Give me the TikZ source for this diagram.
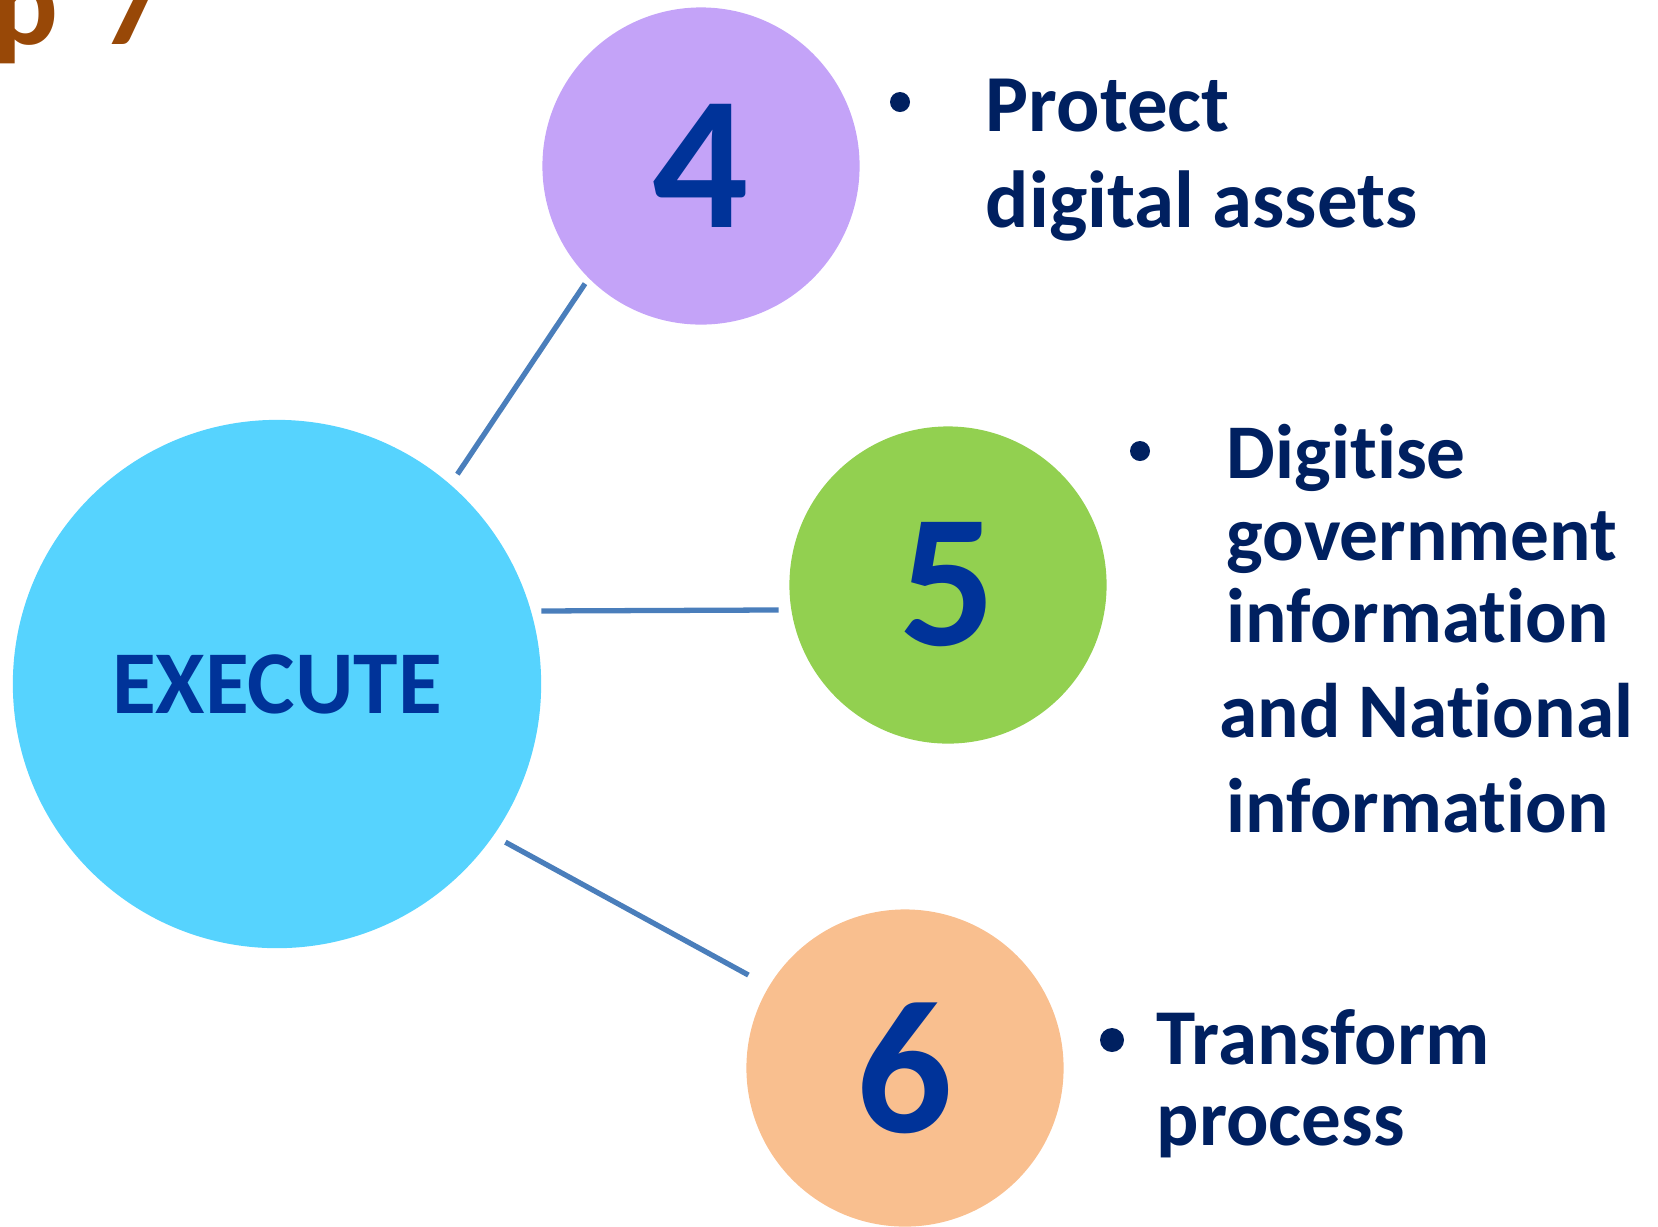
\documentclass[tikz,border=0pt]{standalone}
\usepackage{fontspec}
\setmainfont{Carlito}[Ligatures=NoCommon]
\usepackage{tikz}

\definecolor{execblue}{HTML}{56D3FE}
\definecolor{stepfour}{HTML}{C4A3F8}
\definecolor{stepfive}{HTML}{92D050}
\definecolor{stepsix}{HTML}{F9BF8F}
\definecolor{numblue}{HTML}{003399}
\definecolor{textblue}{HTML}{002060}
\definecolor{linkblue}{HTML}{4A7EBB}
\definecolor{titlebrown}{HTML}{984807}

\begin{document}
\begin{tikzpicture}[x=0.01cm, y=-0.01cm,
  bubble/.style={circle, inner sep=0pt, minimum size=3.17cm, text=numblue,
    font=\fontsize{54}{54}\selectfont\bfseries},
  link/.style={draw=linkblue, line width=1.5pt},
  dot/.style={circle, fill=textblue, inner sep=0pt, minimum size=0.2cm},
  point/.style={anchor=base west, inner sep=0pt, align=left, text=textblue}]
  \useasboundingbox (0,0) rectangle (1658,1226);

  % cut-off title at the top left
  \node[anchor=base west, inner sep=0pt, text=titlebrown,
    font=\fontsize{35}{35}\selectfont\bfseries] (title) at (-8,44) {p\kern0.12em\ 7};

  % the circles
  \node[circle, fill=execblue, inner sep=0pt, minimum size=5.28cm, text=numblue,
    font=\fontsize{25.5}{25.5}\selectfont\bfseries] (exec) at (277,684) {EXECUTE};
  \node[bubble, fill=stepfour] (four) at (701,166) {4};
  \node[bubble, fill=stepfive] (five) at (948,585) {5};
  \node[bubble, fill=stepsix] (six) at (905,1068) {6};

  \draw[link, shorten <=3.4pt, shorten >=1.7pt] (exec.49) -- (four.225);
  \draw[link, shorten <=2.8pt, shorten >=3.4pt] (exec.16) -- (five.189.5);
  \draw[link, shorten <=3.7pt, shorten >=6.5pt] (exec.-35.2) -- (six.149.6);

  % bullet points (base = last line)
  \node[dot] (dot4) at (900,102) {};
  \node[point, font=\fontsize{23}{27.3}\selectfont\bfseries] (protect) at (985,227)
    {Protect\\digital assets};

  \node[dot] (dot5) at (1140,451) {};
  \node[point, font=\fontsize{22}{23.2}\selectfont\bfseries] (digitise) at (1226,832)
    {Digitise\\government\\information\\[3.8pt]\hspace*{-0.07cm}and National\\[3.8pt]information};

  \node[dot, minimum size=0.24cm] (dot6) at (1112,1040) {};
  \node[point, font=\fontsize{22.5}{22.8}\selectfont\bfseries] (transform) at (1156,1145)
    {Transform\\process};
\end{tikzpicture}
\end{document}
